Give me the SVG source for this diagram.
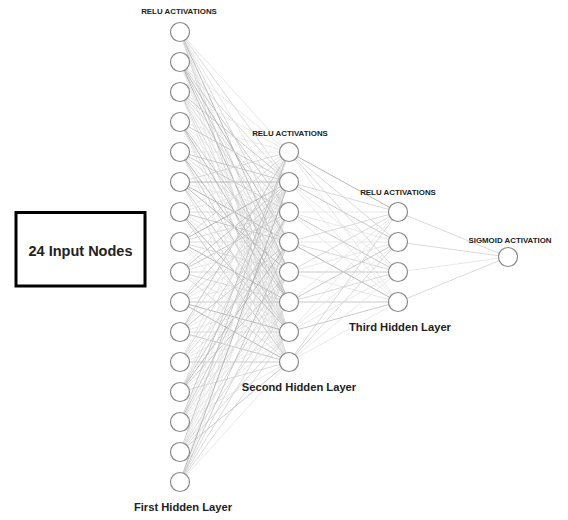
<svg xmlns="http://www.w3.org/2000/svg" width="568" height="520" viewBox="0 0 568 520">
<style>
.e path{fill:none;stroke-width:0.8}
.a{stroke:#e2e2e2}.b{stroke:#d0d0d0}.c{stroke:#bcbcbc}.d{stroke:#a6a6a6}
.n circle{fill:#fff;stroke:#8a8a8a;stroke-width:1.2}
.t{font-family:"Liberation Sans",Arial,sans-serif;font-weight:bold;fill:#222;text-anchor:middle}
.s{font-size:7.9px}.l{font-size:11.2px}
</style>
<rect width="568" height="520" fill="#fff"/>
<g id="connectors" class="e">
<path class="a" d="M180 32 289 152"/><path class="b" d="M180 32 289 182"/><path class="a" d="M180 32 289 212"/><path class="b" d="M180 32 289 242"/><path class="d" d="M180 32 289 272"/><path class="a" d="M180 32 289 302"/><path class="b" d="M180 32 289 332"/><path class="b" d="M180 32 289 362"/>
<path class="a" d="M180 62 289 152"/><path class="b" d="M180 62 289 182"/><path class="c" d="M180 62 289 212"/><path class="d" d="M180 62 289 242"/><path class="c" d="M180 62 289 272"/><path class="d" d="M180 62 289 302"/><path class="a" d="M180 62 289 332"/><path class="a" d="M180 62 289 362"/>
<path class="a" d="M180 92 289 152"/><path class="c" d="M180 92 289 182"/><path class="b" d="M180 92 289 212"/><path class="b" d="M180 92 289 242"/><path class="a" d="M180 92 289 272"/><path class="b" d="M180 92 289 302"/><path class="b" d="M180 92 289 332"/><path class="a" d="M180 92 289 362"/>
<path class="a" d="M180 122 289 152"/><path class="c" d="M180 122 289 182"/><path class="a" d="M180 122 289 212"/><path class="a" d="M180 122 289 242"/><path class="c" d="M180 122 289 272"/><path class="d" d="M180 122 289 302"/><path class="b" d="M180 122 289 332"/><path class="a" d="M180 122 289 362"/>
<path class="a" d="M180 152 289 152"/><path class="c" d="M180 152 289 182"/><path class="c" d="M180 152 289 212"/><path class="b" d="M180 152 289 242"/><path class="a" d="M180 152 289 272"/><path class="d" d="M180 152 289 302"/><path class="c" d="M180 152 289 332"/><path class="a" d="M180 152 289 362"/>
<path class="b" d="M180 182 289 152"/><path class="d" d="M180 182 289 182"/><path class="a" d="M180 182 289 212"/><path class="d" d="M180 182 289 242"/><path class="d" d="M180 182 289 272"/><path class="a" d="M180 182 289 302"/><path class="c" d="M180 182 289 332"/><path class="b" d="M180 182 289 362"/>
<path class="a" d="M180 212 289 152"/><path class="a" d="M180 212 289 182"/><path class="b" d="M180 212 289 212"/><path class="c" d="M180 212 289 242"/><path class="a" d="M180 212 289 272"/><path class="a" d="M180 212 289 302"/><path class="d" d="M180 212 289 332"/><path class="c" d="M180 212 289 362"/>
<path class="b" d="M180 242 289 152"/><path class="d" d="M180 242 289 182"/><path class="b" d="M180 242 289 212"/><path class="b" d="M180 242 289 242"/><path class="b" d="M180 242 289 272"/><path class="d" d="M180 242 289 302"/><path class="a" d="M180 242 289 332"/><path class="a" d="M180 242 289 362"/>
<path class="a" d="M180 272 289 152"/><path class="c" d="M180 272 289 182"/><path class="c" d="M180 272 289 212"/><path class="a" d="M180 272 289 242"/><path class="b" d="M180 272 289 272"/><path class="b" d="M180 272 289 302"/><path class="a" d="M180 272 289 332"/><path class="b" d="M180 272 289 362"/>
<path class="a" d="M180 302 289 152"/><path class="c" d="M180 302 289 182"/><path class="b" d="M180 302 289 212"/><path class="a" d="M180 302 289 242"/><path class="a" d="M180 302 289 272"/><path class="c" d="M180 302 289 302"/><path class="d" d="M180 302 289 332"/><path class="d" d="M180 302 289 362"/>
<path class="c" d="M180 332 289 152"/><path class="b" d="M180 332 289 182"/><path class="a" d="M180 332 289 212"/><path class="c" d="M180 332 289 242"/><path class="a" d="M180 332 289 272"/><path class="a" d="M180 332 289 302"/><path class="b" d="M180 332 289 332"/><path class="c" d="M180 332 289 362"/>
<path class="a" d="M180 362 289 152"/><path class="b" d="M180 362 289 182"/><path class="a" d="M180 362 289 212"/><path class="b" d="M180 362 289 242"/><path class="a" d="M180 362 289 272"/><path class="a" d="M180 362 289 302"/><path class="a" d="M180 362 289 332"/><path class="c" d="M180 362 289 362"/>
<path class="a" d="M180 392 289 152"/><path class="b" d="M180 392 289 182"/><path class="c" d="M180 392 289 212"/><path class="d" d="M180 392 289 242"/><path class="c" d="M180 392 289 272"/><path class="a" d="M180 392 289 302"/><path class="a" d="M180 392 289 332"/><path class="b" d="M180 392 289 362"/>
<path class="c" d="M180 422 289 152"/><path class="a" d="M180 422 289 182"/><path class="c" d="M180 422 289 212"/><path class="b" d="M180 422 289 242"/><path class="b" d="M180 422 289 272"/><path class="a" d="M180 422 289 302"/><path class="a" d="M180 422 289 332"/><path class="a" d="M180 422 289 362"/>
<path class="c" d="M180 452 289 152"/><path class="a" d="M180 452 289 182"/><path class="a" d="M180 452 289 212"/><path class="a" d="M180 452 289 242"/><path class="b" d="M180 452 289 272"/><path class="b" d="M180 452 289 302"/><path class="b" d="M180 452 289 332"/><path class="c" d="M180 452 289 362"/>
<path class="a" d="M180 482 289 152"/><path class="d" d="M180 482 289 182"/><path class="a" d="M180 482 289 212"/><path class="c" d="M180 482 289 242"/><path class="b" d="M180 482 289 272"/><path class="b" d="M180 482 289 302"/><path class="b" d="M180 482 289 332"/><path class="a" d="M180 482 289 362"/>
<path class="d" d="M289 152 398 212"/><path class="b" d="M289 152 398 242"/><path class="b" d="M289 152 398 272"/><path class="a" d="M289 152 398 302"/>
<path class="b" d="M289 182 398 212"/><path class="c" d="M289 182 398 242"/><path class="a" d="M289 182 398 272"/><path class="a" d="M289 182 398 302"/>
<path class="a" d="M289 212 398 212"/><path class="a" d="M289 212 398 242"/><path class="c" d="M289 212 398 272"/><path class="a" d="M289 212 398 302"/>
<path class="b" d="M289 242 398 212"/><path class="a" d="M289 242 398 242"/><path class="b" d="M289 242 398 272"/><path class="d" d="M289 242 398 302"/>
<path class="b" d="M289 272 398 212"/><path class="a" d="M289 272 398 242"/><path class="c" d="M289 272 398 272"/><path class="a" d="M289 272 398 302"/>
<path class="a" d="M289 302 398 212"/><path class="c" d="M289 302 398 242"/><path class="b" d="M289 302 398 272"/><path class="c" d="M289 302 398 302"/>
<path class="a" d="M289 332 398 212"/><path class="a" d="M289 332 398 242"/><path class="a" d="M289 332 398 272"/><path class="c" d="M289 332 398 302"/>
<path class="b" d="M289 362 398 212"/><path class="b" d="M289 362 398 242"/><path class="a" d="M289 362 398 272"/><path class="a" d="M289 362 398 302"/>
<path class="b" d="M398 212 508 257"/><path class="b" d="M398 242 508 257"/><path class="a" d="M398 272 508 257"/><path class="b" d="M398 302 508 257"/>
</g>
<g id="input-box">
<rect x="16" y="212.5" width="129" height="73.5" fill="#fff" stroke="#000" stroke-width="3"/>
<text class="t" x="80.5" y="256" font-size="14.5">24 Input Nodes</text>
</g>
<g id="h1" class="n">
<circle cx="180" cy="32" r="9.5"/><circle cx="180" cy="62" r="9.5"/><circle cx="180" cy="92" r="9.5"/><circle cx="180" cy="122" r="9.5"/>
<circle cx="180" cy="152" r="9.5"/><circle cx="180" cy="182" r="9.5"/><circle cx="180" cy="212" r="9.5"/><circle cx="180" cy="242" r="9.5"/>
<circle cx="180" cy="272" r="9.5"/><circle cx="180" cy="302" r="9.5"/><circle cx="180" cy="332" r="9.5"/><circle cx="180" cy="362" r="9.5"/>
<circle cx="180" cy="392" r="9.5"/><circle cx="180" cy="422" r="9.5"/><circle cx="180" cy="452" r="9.5"/><circle cx="180" cy="482" r="9.5"/>
<text class="t s" x="179" y="14">RELU ACTIVATIONS</text>
<text class="t l" x="183" y="511">First Hidden Layer</text>
</g>
<g id="h2" class="n">
<circle cx="289" cy="152" r="9.5"/><circle cx="289" cy="182" r="9.5"/><circle cx="289" cy="212" r="9.5"/><circle cx="289" cy="242" r="9.5"/>
<circle cx="289" cy="272" r="9.5"/><circle cx="289" cy="302" r="9.5"/><circle cx="289" cy="332" r="9.5"/><circle cx="289" cy="362" r="9.5"/>
<text class="t s" x="290" y="136">RELU ACTIVATIONS</text>
<text class="t l" x="299" y="391">Second Hidden Layer</text>
</g>
<g id="h3" class="n">
<circle cx="398" cy="212" r="9.5"/><circle cx="398" cy="242" r="9.5"/><circle cx="398" cy="272" r="9.5"/><circle cx="398" cy="302" r="9.5"/>
<text class="t s" x="398" y="195">RELU ACTIVATIONS</text>
<text class="t l" x="400" y="331">Third Hidden Layer</text>
</g>
<g id="output" class="n">
<circle cx="508" cy="257" r="9.5"/>
<text class="t s" x="510" y="243">SIGMOID ACTIVATION</text>
</g>
</svg>
